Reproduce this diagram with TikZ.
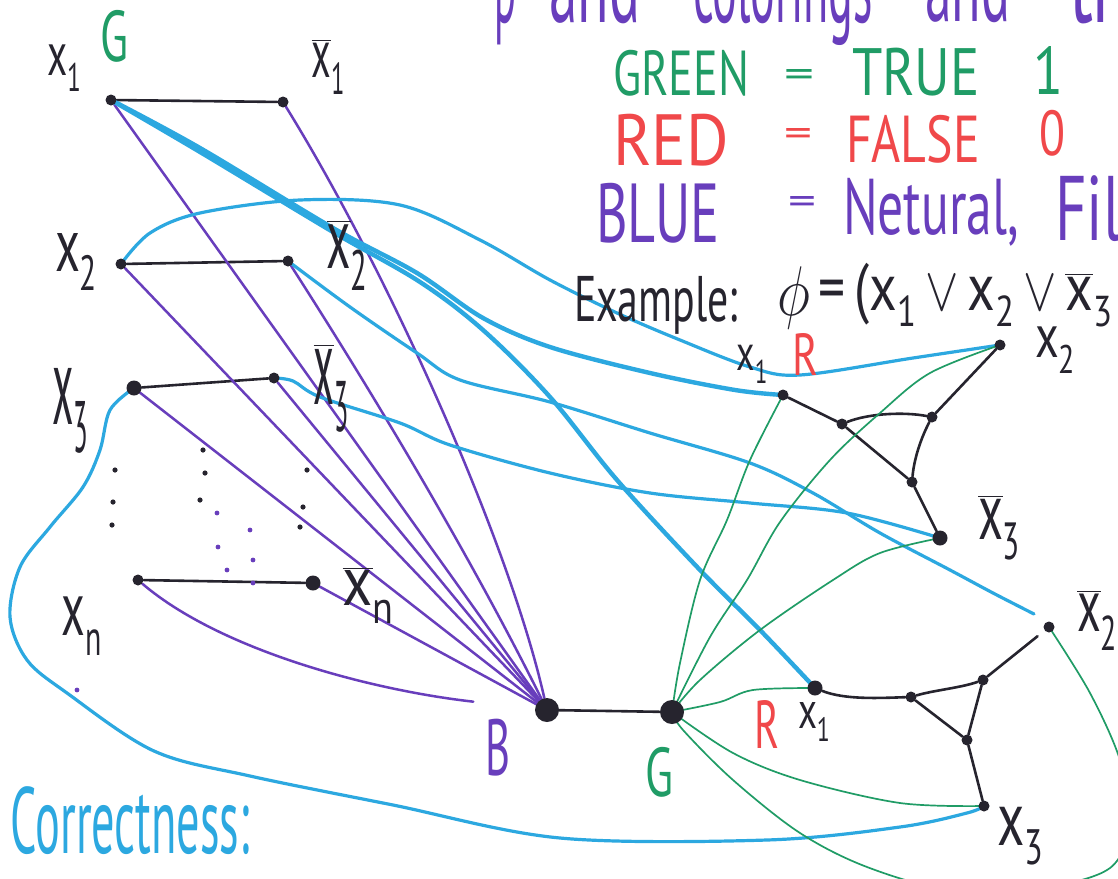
\documentclass[tikz,border=0pt]{standalone}
\usepackage{fontspec}
\setmainfont{PT Sans}
\usepackage{graphicx}
\usetikzlibrary{backgrounds}
\definecolor{ink}{RGB}{38,36,46}
\definecolor{grn}{RGB}{32,156,102}
\definecolor{rd}{RGB}{240,72,74}
\definecolor{purp}{RGB}{104,62,188}
\definecolor{sky}{RGB}{44,168,224}
\newcommand\fitbox[3]{\resizebox*{#1pt}{#2pt}{#3}}
\newcommand\xl[1]{x\raisebox{-0.5ex}{\fontsize{26}{26}\selectfont #1}}
\newcommand\nxl[1]{$\overline{\mbox{x}}$\raisebox{-0.5ex}{\fontsize{26}{26}\selectfont #1}}

\begin{document}
\begin{tikzpicture}[x=1pt,y=-1pt,
  vdot/.style={circle,fill=ink,inner sep=0pt,minimum size=11pt},
  middot/.style={circle,fill=ink,inner sep=0pt,minimum size=15pt},
  hubdot/.style={circle,fill=ink,inner sep=0pt,minimum size=24pt},
  txt/.style={inner sep=0pt,outer sep=0pt,font=\fontsize{40}{44}\selectfont},
  pline/.style={draw=purp,line width=2.5pt,line cap=round},
  bline/.style={draw=sky,line width=3.2pt,line cap=round,line join=round},
  bthick/.style={draw=sky,line width=4.4pt,line cap=round,line join=round},
  gline/.style={draw=grn,line width=1.7pt,line cap=round,line join=round},
  kline/.style={draw=ink,line width=2.6pt,line cap=round},
  hand/.style={smooth,tension=0.55},
  speck/.style={fill=ink},
  pspeck/.style={fill=purp},
]
\useasboundingbox (0,0) rectangle (1118,878);
\clip (0,0) rectangle (1118,878);

% ---------- variable gadgets (left) ----------
\node[vdot] (x1)  at (111,100) {};
\node[vdot] (nx1) at (283,102) {};
\node[vdot] (x2)  at (121,264) {};
\node[vdot] (nx2) at (288,261) {};
\node[middot] (x3)  at (134,388) {};
\node[vdot] (nx3) at (274,378) {};
\node[vdot] (xn)  at (138,580) {};
\node[middot] (nxn) at (313,583) {};

% ---------- B and G ----------
\node[hubdot] (B) at (547,710) {};
\node[hubdot] (G) at (672,712) {};

% ---------- clause gadget 1 ----------
\node[vdot] (c1a) at (783,395) {};
\node[vdot] (c1b) at (1000,345) {};
\node[middot] (c1c) at (940,538) {};
\node[vdot] (t1a) at (842,424) {};
\node[vdot] (t1b) at (932,417) {};
\node[vdot] (t1c) at (912,482) {};

% ---------- clause gadget 2 ----------
\node[middot] (c2a) at (815,688) {};
\node[vdot] (c2b) at (1049,627) {};
\node[vdot] (c2c) at (984,806) {};
\node[vdot] (t2a) at (911,697) {};
\node[vdot] (t2b) at (983,680) {};
\node[vdot] (t2c) at (967,740) {};
\coordinate (c2bin) at (1034,614);

% ---------- labels ----------
\node[txt,text=ink] (lx1)  at (64,68)   {\fitbox{34}{46}{\xl{1}}};
\node[txt,text=grn] (lg1)  at (114,36)  {\fitbox{28}{52}{G}};
\node[txt,text=ink] (lnx1) at (328,67)  {\fitbox{33}{55}{\nxl{1}}};
\node[txt,text=ink] (lx2)  at (76,262)  {\fitbox{42}{57}{\xl{2}}};
\node[txt,text=ink] (lnx2) at (347,255) {\fitbox{41}{70}{\nxl{2}}};
\node[txt,text=ink] (lx3)  at (70,411)  {\fitbox{36}{85}{\xl{3}}};
\node[txt,text=ink] (lnx3) at (331,388) {\fitbox{35}{89}{\nxl{3}}};
\node[txt,text=ink] (lxn)  at (82,626)  {\fitbox{40}{58}{\xl{n}}};
\node[txt,text=ink] (lnxn) at (368,595) {\fitbox{51}{56}{\nxl{n}}};
\node[txt,text=purp] (lB)  at (498,748) {\fitbox{25}{57}{B}};
\node[txt,text=grn] (lG)   at (659,772) {\fitbox{28}{50}{G}};

\node[txt,text=ink] (lc1a) at (752,364) {\fitbox{31}{38}{\xl{1}}};
\node[txt,text=rd]  (lc1r) at (805,354) {\fitbox{26}{42}{R}};
\node[txt,text=ink] (lc1b) at (1055,350) {\fitbox{40}{46}{\xl{2}}};
\node[txt,text=ink] (lc1c) at (999,528) {\fitbox{42}{65}{\nxl{3}}};
\node[txt,text=rd]  (lc2r) at (767,724) {\fitbox{25}{48}{R}};
\node[txt,text=ink] (lc2a) at (814,722) {\fitbox{32}{39}{\xl{1}}};
\node[txt,text=ink] (lc2b) at (1097,620) {\fitbox{40}{60}{\nxl{2}}};
\node[txt,text=ink] (lc2c) at (1020,836) {\fitbox{46}{58}{\xl{3}}};

% ---------- heading (cut off at the top) and legend ----------
\node[txt,text=purp,anchor=base west] (top1) at (494,22) {\fitbox{22}{80}{p}};
\node[txt,text=purp,anchor=base west] (top2) at (549,22) {\fitbox{91}{80}{and}};
\node[txt,text=purp,anchor=base west] (top3) at (693,22) {\fitbox{180}{100}{colorings}};
\node[txt,text=purp,anchor=base west] (top4) at (925,22) {\fitbox{85}{75}{and}};
\node[txt,text=purp,anchor=base west] (top5) at (1069,22) {\fitbox{48}{75}{tr}};

\node[txt,text=grn] (gw) at (681,73)  {\fitbox{136}{46}{GREEN}};
\node[txt,text=grn] (ge) at (799,78)  {\fitbox{30}{18}{=}};
\node[txt,text=grn] (gt) at (916,72)  {\fitbox{128}{48}{TRUE}};
\node[txt,text=grn] (g1) at (1048,70) {\fitbox{30}{48}{1}};
\node[txt,text=rd]  (rw) at (671,140) {\fitbox{116}{52}{RED}};
\node[txt,text=rd]  (re) at (798,137) {\fitbox{28}{18}{=}};
\node[txt,text=rd]  (rf) at (913,139) {\fitbox{134}{48}{FALSE}};
\node[txt,text=rd]  (r0) at (1052,133) {\fitbox{26}{46}{0}};
\node[txt,text=purp] (bw) at (658,213) {\fitbox{124}{60}{BLUE}};
\node[txt,text=purp] (be) at (802,205) {\fitbox{28}{18}{=}};
\node[txt,text=purp] (bn) at (931,212) {\fitbox{176}{68}{Netural,}};
\node[txt,text=purp,anchor=west] (bf) at (1055,209) {\fitbox{66}{66}{Fil}};

\node[txt,text=ink] (ex) at (656,305) {\fitbox{164}{58}{Example:}};
\node[txt,text=ink,anchor=west] (phi) at (777,296) {\fitbox{335}{66}{\raisebox{-0.15ex}{\scalebox{1.7}{$\phi$}}\,=\,(\xl{1}\,\scalebox{1.5}{$\vee$}\,\xl{2}\,\scalebox{1.5}{$\vee$}\,\nxl{3}}};
\node[txt,text=sky] (corr) at (130,821) {\fitbox{239}{68}{Correctness:}};

% ---------- ellipsis dots ----------
\foreach \p in {(115,470),(113,502),(112,525),(203,450),(205,473),(200,500),(307,470),(303,507),(300,527)}
  \fill[speck] \p circle (2.6);
\foreach \p in {(217,513),(218,547),(227,570),(250,530),(253,560),(253,583),(77,690)}
  \fill[pspeck] \p circle (2.4);

% ---------- connectors (under the nodes) ----------
\begin{scope}[on background layer]
\fill[white] (0,0) rectangle (1118,878);
\clip (0,0) rectangle (1118,878);

% black gadget edges
\draw[kline] (x1) -- (nx1);
\draw[kline] (x2) -- (nx2);
\draw[kline] (x3) -- (nx3);
\draw[kline] (xn) -- (nxn);
\draw[kline] (B) -- (G);
\draw[kline] (c1a) -- (t1a);
\draw[kline] (t1a) .. controls (870,413) and (905,412) .. (t1b);
\draw[kline] (t1b) -- (c1b);
\draw[kline] (t1a) -- (t1c);
\draw[kline] (t1b) .. controls (920,440) and (914,460) .. (t1c);
\draw[kline] (t1c) -- (c1c);
\draw[kline] (c2a) .. controls (845,700) and (880,698) .. (t2a);
\draw[kline] (t2a) .. controls (935,690) and (960,688) .. (t2b);
\draw[kline] (t2a) -- (t2c);
\draw[kline] (t2b) -- (t2c);
\draw[kline,shorten >=9pt] (t2b) -- (c2b);
\draw[kline] (t2c) -- (c2c);

% purple: literals to B
\draw[pline] (x1) -- (B);
\draw[pline] (nx1) .. controls (390,275) and (510,545) .. (B);
\draw[pline] (x2) -- (B);
\draw[pline] (nx2) .. controls (390,420) and (480,575) .. (B);
\draw[pline] (x3) -- (B);
\draw[pline] (nx3) -- (B);
\draw[pline,shorten >=62pt] (xn) .. controls (220,650) and (370,690) .. (B);
\draw[pline] (nxn) -- (B);

% blue: literals to clause inputs
\draw[bthick] plot[hand] coordinates {(x1.center) (200,148) (333,228) (417,273) (483,318) (550,347) (650,373) (735,390) (c1a.center)};
\draw[bthick] plot[hand] coordinates {(x1.center) (200,152) (333,232) (420,282) (483,330) (550,397) (617,480) (700,570) (760,630) (c2a.center)};
\draw[bline] plot[hand] coordinates {(x2.center) (150,233) (200,213) (300,200) (400,205) (480,240) (550,280) (617,313) (680,340) (750,367) (800,375) (913,358) (c1b.center)};
\draw[bline] plot[hand] coordinates {(nx2.center) (350,307) (417,353) (460,380) (550,402) (650,433) (750,463) (813,493) (880,533) (950,570) (993,593) (c2bin)};
\draw[bline] plot[hand] coordinates {(nx3.center) (293,381) (320,397) (400,423) (450,445) (550,473) (650,493) (750,503) (847,513) (c1c.center)};
\draw[bline] plot[hand] coordinates {(x3.center) (110,410) (100,450) (83,487) (50,527) (20,567) (10,617) (27,660) (67,693) (154,751) (250,776) (393,805) (560,838) (767,840) (900,827) (967,813) (c2c.center)};

% green: G to clause inputs
\draw[gline] plot[hand] coordinates {(G.center) (680,663) (700,580) (727,520) (750,460) (c1a.center)};
\draw[gline] plot[hand] coordinates {(G.center) (710,637) (747,580) (780,522) (830,460) (880,413) (930,373) (c1b.center)};
\draw[gline] plot[hand] coordinates {(G.center) (700,680) (760,630) (833,580) (880,553) (c1c.center)};
\draw[gline] plot[hand] coordinates {(G.center) (720,702) (753,690) (c2a.center)};
\draw[gline] plot[hand] coordinates {(G.center) (733,753) (800,780) (900,803) (c2c.center)};
\draw[gline] plot[hand] coordinates {(G.center) (683,730) (733,780) (800,833) (867,867) (950,890) (1040,888) (1110,868) (1130,820) (1120,760) (1090,693) (c2b.center)};
\end{scope}
\end{tikzpicture}
\end{document}
